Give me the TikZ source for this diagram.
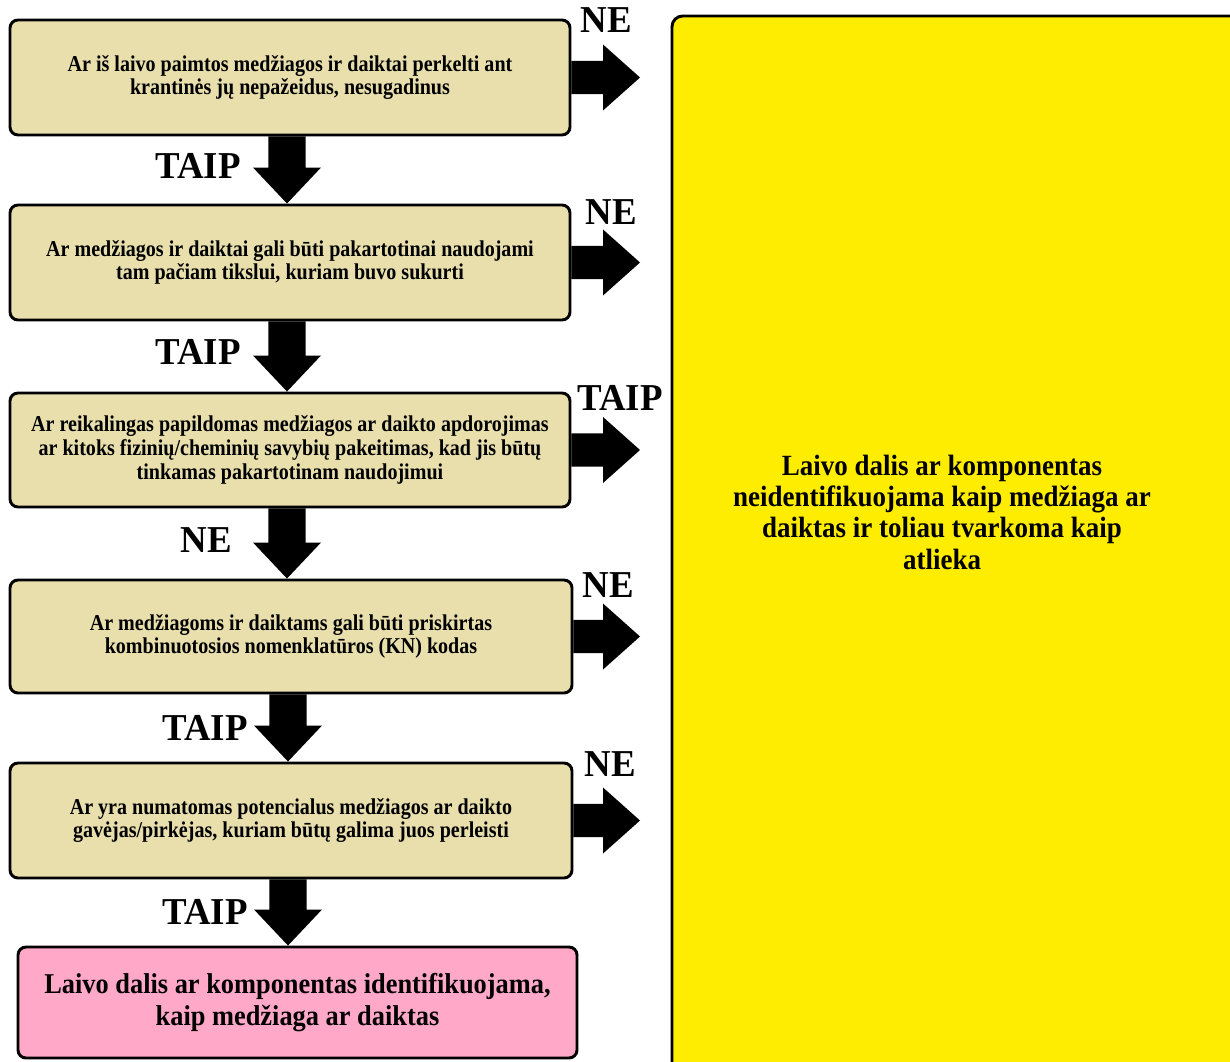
\documentclass[tikz,border=0pt]{standalone}
\usepackage{fontspec}
\setmainfont{Liberation Serif}
\newfontfamily\boxfont{Liberation Serif}[FakeStretch=0.885]
\newfontfamily\bigfont{Liberation Serif}[FakeStretch=0.92]
\newfontfamily\lblfont{Liberation Serif}[FakeStretch=0.97]
\usetikzlibrary{calc}
\definecolor{tan}{RGB}{233,223,173}
\definecolor{pinkbox}{RGB}{255,168,200}
\definecolor{yel}{RGB}{255,237,0}
\tikzset{
  qbox/.style={draw=black, line width=2.2pt, rounded corners=6pt, fill=tan,
    align=center, inner sep=0pt, font=\boxfont\bfseries\fontsize{17}{17.8}\selectfont},
  endbox/.style={draw=black, line width=2.2pt, rounded corners=6pt, fill=pinkbox,
    align=center, inner sep=0pt, font=\bigfont\bfseries\fontsize{21.5}{24}\selectfont},
  lbl/.style={font=\lblfont\bfseries\fontsize{28.5}{30}\selectfont, inner sep=0pt},
}
\newcommand{\dnarr}[2]{%
  \fill let \p1=($(#1.south)+(-3,0)$), \p2=(#2.north) in
    (\x1-13.9pt,\y1) -- (\x1+13.9pt,\y1) -- (\x1+13.9pt,\y2+27pt) --
    (\x1+25.5pt,\y2+27pt) -- (\x1,\y2) -- (\x1-25.5pt,\y2+27pt) --
    (\x1-13.9pt,\y2+27pt) -- cycle;}
\newcommand{\rtarr}[2]{%
  \fill let \p1=(#1.east), \p2=(#2) in
    (\x1,\y1+12.4pt) -- (\x2-27.75pt,\y1+12.4pt) -- (\x2-27.75pt,\y1+24.75pt) --
    (\x2,\y1) -- (\x2-27.75pt,\y1-24.75pt) -- (\x2-27.75pt,\y1-12.4pt) --
    (\x1,\y1-12.4pt) -- cycle;}
\begin{document}
\begin{tikzpicture}[x=0.75pt,y=-0.75pt]
\useasboundingbox (0,0) rectangle (1230,1062);
\fill[white] (0,0) rectangle (1230,1062);

% yellow result box
\node[draw=black, line width=2.2pt, rounded corners=8pt, fill=yel,
      minimum width=429.75pt, minimum height=794.25pt, inner sep=0pt] (yb) at (958.5,545.5) {};
\node[align=center, inner sep=0pt, font=\bigfont\bfseries\fontsize{22}{23.5}\selectfont] (yt) at (942,512)
  {Laivo dalis ar komponentas\\neidentifikuojama kaip medžiaga ar\\daiktas ir toliau tvarkoma kaip\\atlieka};

% question boxes
\node[qbox, minimum width=420pt, minimum height=86.25pt] (b1) at (290,77.5)
  {Ar iš laivo paimtos medžiagos ir daiktai perkelti ant\\krantinės jų nepažeidus, nesugadinus};
\node[qbox, minimum width=420pt, minimum height=86.25pt] (b2) at (290,262.5)
  {Ar medžiagos ir daiktai gali būti pakartotinai naudojami\\tam pačiam tikslui, kuriam buvo sukurti};
\node[qbox, minimum width=420pt, minimum height=85.5pt] (b3) at (290,450)
  {Ar reikalingas papildomas medžiagos ar daikto apdorojimas\\ar kitoks fizinių/cheminių savybių pakeitimas, kad jis būtų\\tinkamas pakartotinam naudojimui};
\node[qbox, minimum width=421.5pt, minimum height=84.75pt] (b4) at (291,636.5)
  {Ar medžiagoms ir daiktams gali būti priskirtas\\kombinuotosios nomenklatūros (KN) kodas};
\node[qbox, minimum width=421.5pt, minimum height=86.25pt] (b5) at (291,820.5)
  {Ar yra numatomas potencialus medžiagos ar daikto\\gavėjas/pirkėjas, kuriam būtų galima juos perleisti};
\node[endbox, minimum width=419.25pt, minimum height=83.25pt] (b6) at (297.5,1002.5)
  {Laivo dalis ar komponentas identifikuojama,\\kaip medžiaga ar daiktas};

% down arrows
\dnarr{b1}{b2}
\dnarr{b2}{b3}
\dnarr{b3}{b4}
\dnarr{b4}{b5}
\dnarr{b5}{b6}

% right arrow tips
\coordinate (t1) at (640,77.5);
\coordinate (t2) at (640,262.5);
\coordinate (t3) at (640,450);
\coordinate (t4) at (640,636.5);
\coordinate (t5) at (640,820.5);
\rtarr{b1}{t1}
\rtarr{b2}{t2}
\rtarr{b3}{t3}
\rtarr{b4}{t4}
\rtarr{b5}{t5}

% labels
\node[lbl] (l1r) at (606,20) {NE};
\node[lbl] (l2r) at (611,212) {NE};
\node[lbl] (l3r) at (620,398) {TAIP};
\node[lbl] (l4r) at (608,585) {NE};
\node[lbl] (l5r) at (610,764) {NE};
\node[lbl] (l1d) at (198,166) {TAIP};
\node[lbl] (l2d) at (198,352) {TAIP};
\node[lbl] (l3d) at (206,540) {NE};
\node[lbl] (l4d) at (205,728) {TAIP};
\node[lbl] (l5d) at (205,912) {TAIP};
\end{tikzpicture}
\end{document}
